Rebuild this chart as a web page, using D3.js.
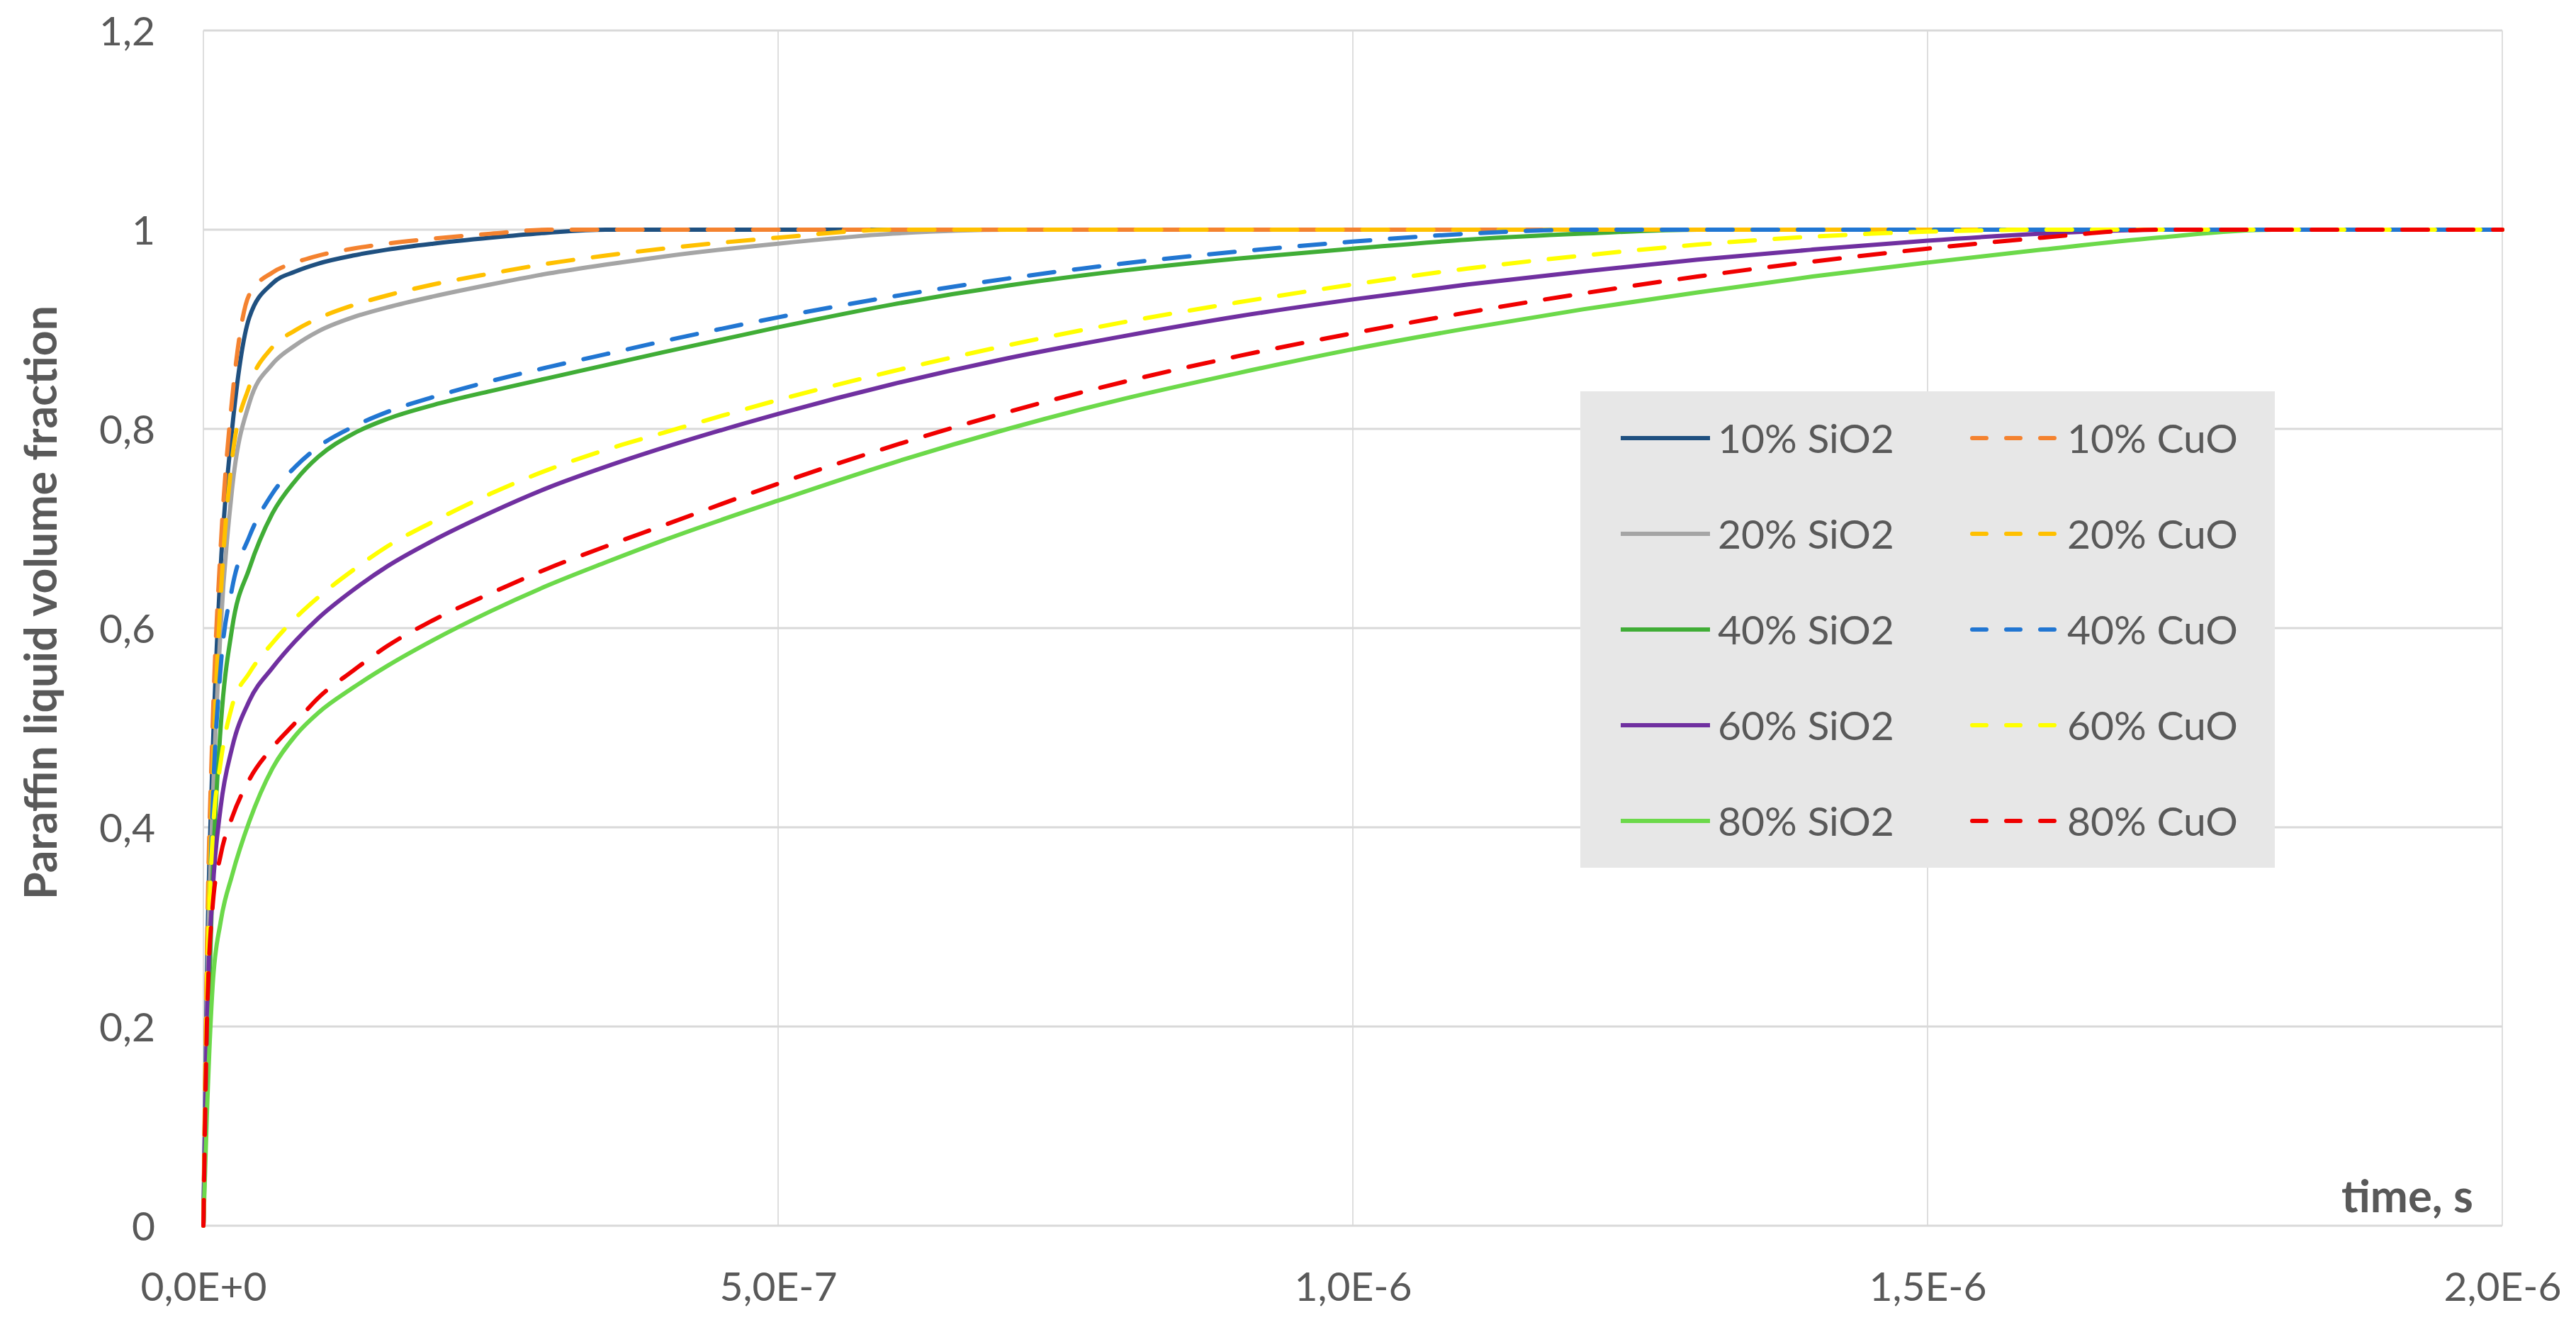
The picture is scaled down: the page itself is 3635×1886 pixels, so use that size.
<!DOCTYPE html>
<html><head><meta charset="utf-8">
<script src="https://cdn.jsdelivr.net/npm/d3@7"></script>
<style>html,body{margin:0;padding:0;background:#fff;} svg{display:block;}</style>
</head><body>
<svg id="chart" width="3635" height="1886"></svg>
<script>
// ---- data ----
const timeS = [0, 3e-9, 8e-9, 1.5e-8, 2.5e-8, 4e-8, 6e-8, 8e-8, 1.0e-7, 1.3e-7, 1.6e-7, 2.0e-7, 2.5e-7, 3.0e-7, 3.5e-7, 4e-7,
  5e-7, 6e-7, 7e-7, 8e-7, 9e-7, 1.0e-6, 1.1e-6, 1.2e-6, 1.3e-6, 1.4e-6, 1.5e-6, 1.6e-6, 1.7e-6, 1.8e-6, 1.9e-6, 2.0e-6];

const sio2_10 = [0, 0.25, 0.47, 0.66, 0.8, 0.912, 0.946, 0.958, 0.966, 0.974, 0.98, 0.986, 0.992, 0.997, 1, 1, 1, 1, 1, 1, 1, 1, 1, 1, 1, 1, 1, 1, 1, 1, 1, 1];
const sio2_20 = [0, 0.22, 0.42, 0.6, 0.74, 0.826, 0.865, 0.884, 0.898, 0.912, 0.922, 0.933, 0.945, 0.956, 0.965, 0.973, 0.986, 0.996, 1, 1, 1, 1, 1, 1, 1, 1, 1, 1, 1, 1, 1, 1];
const sio2_40 = [0, 0.15, 0.35, 0.5, 0.6, 0.66, 0.715, 0.748, 0.772, 0.795, 0.81, 0.824, 0.838, 0.851, 0.864, 0.877, 0.902, 0.925, 0.944, 0.959, 0.971, 0.981, 0.99, 0.996, 1, 1, 1, 1, 1, 1, 1, 1];
const sio2_60 = [0, 0.2, 0.334, 0.42, 0.48, 0.527, 0.56, 0.587, 0.61, 0.638, 0.662, 0.688, 0.716, 0.741, 0.762, 0.781, 0.815, 0.845, 0.871, 0.893, 0.913, 0.93, 0.945, 0.958, 0.97, 0.98, 0.989, 0.996, 1, 1, 1, 1];
const sio2_80 = [0, 0.11, 0.24, 0.305, 0.352, 0.406, 0.459, 0.492, 0.515, 0.54, 0.562, 0.588, 0.617, 0.643, 0.666, 0.688, 0.728, 0.766, 0.8, 0.83, 0.856, 0.88, 0.901, 0.92, 0.937, 0.953, 0.967, 0.98, 0.992, 1, 1, 1];
const cuo_10 = [0, 0.27, 0.5, 0.68, 0.83, 0.935, 0.957, 0.967, 0.974, 0.981, 0.986, 0.991, 0.996, 1, 1, 1, 1, 1, 1, 1, 1, 1, 1, 1, 1, 1, 1, 1, 1, 1, 1, 1];
const cuo_20 = [0, 0.24, 0.45, 0.63, 0.77, 0.843, 0.882, 0.899, 0.911, 0.924, 0.934, 0.945, 0.956, 0.966, 0.974, 0.981, 0.992, 1, 1, 1, 1, 1, 1, 1, 1, 1, 1, 1, 1, 1, 1, 1];
const cuo_40 = [0, 0.2, 0.42, 0.56, 0.64, 0.692, 0.735, 0.762, 0.782, 0.802, 0.817, 0.832, 0.848, 0.862, 0.875, 0.888, 0.912, 0.933, 0.951, 0.966, 0.978, 0.988, 0.996, 1, 1, 1, 1, 1, 1, 1, 1, 1];
const cuo_60 = [0, 0.22, 0.39, 0.465, 0.522, 0.555, 0.585, 0.61, 0.631, 0.658, 0.682, 0.707, 0.735, 0.759, 0.779, 0.796, 0.829, 0.858, 0.884, 0.907, 0.927, 0.945, 0.961, 0.974, 0.985, 0.993, 0.998, 1, 1, 1, 1, 1];
const cuo_80 = [0, 0.2, 0.32, 0.372, 0.41, 0.448, 0.48, 0.505, 0.53, 0.557, 0.582, 0.608, 0.635, 0.66, 0.682, 0.703, 0.745, 0.783, 0.817, 0.847, 0.873, 0.896, 0.917, 0.936, 0.953, 0.968, 0.981, 0.992, 1, 1, 1, 1];

const sio2Names = ["10% SiO2", "20% SiO2", "40% SiO2", "60% SiO2", "80% SiO2"];
const cuoNames  = ["10% CuO", "20% CuO", "40% CuO", "60% CuO", "80% CuO"];

const xTickValues = [0, 5e-7, 1e-6, 1.5e-6, 2e-6];
const xTickLabels = ["0,0E+0", "5,0E-7", "1,0E-6", "1,5E-6", "2,0E-6"];
const yTickValues = [0, 0.2, 0.4, 0.6, 0.8, 1, 1.2];
const yTickLabels = ["0", "0,2", "0,4", "0,6", "0,8", "1", "1,2"];

const yTitle = "Paraffin liquid volume fraction";
const xTitle = "time, s";

// ---- styles ----
const sio2Colors = ["#1f5080", "#a5a5a5", "#40ad36", "#7030a0", "#6cd94a"];
const cuoColors  = ["#f4822f", "#ffc000", "#2176d2", "#ffff00", "#f00000"];
const sio2Data = [sio2_10, sio2_20, sio2_40, sio2_60, sio2_80];
const cuoData  = [cuo_10, cuo_20, cuo_40, cuo_60, cuo_80];

const FONT = "Lato, 'Open Sans', sans-serif";
const TXT = "#595959";
const PLOT_DASH = "36,28";
const LEG_DASH = "20,28";

const svg = d3.select("#chart");
svg.append("rect").attr("width", 3635).attr("height", 1886).attr("fill", "#fff");

const x = d3.scaleLinear().domain([0, 2e-6]).range([287, 3531]);
const y = d3.scaleLinear().domain([0, 1.2]).range([1729, 43]);

// grid
const grid = svg.append("g");
grid.selectAll("line.v").data(xTickValues).join("line")
  .attr("x1", d => x(d)).attr("x2", d => x(d))
  .attr("y1", y(1.2)).attr("y2", y(0))
  .attr("stroke", "#dedede").attr("stroke-width", 2);
grid.selectAll("line.h").data(yTickValues).join("line")
  .attr("x1", x(0)).attr("x2", x(2e-6))
  .attr("y1", d => y(d)).attr("y2", d => y(d))
  .attr("stroke", "#d9d9d9").attr("stroke-width", 3);

// axes labels
const yAxis = d3.axisLeft(y).tickValues(yTickValues)
  .tickFormat((d, i) => yTickLabels[i]).tickSize(0).tickPadding(68);
const gy = svg.append("g").attr("transform", `translate(${x(0)},0)`).call(yAxis);
gy.select(".domain").remove();
gy.selectAll("text").attr("font-family", FONT).attr("font-size", 57)
  .attr("fill", TXT).attr("dy", "0.36em");

const xAxis = d3.axisBottom(x).tickValues(xTickValues)
  .tickFormat((d, i) => xTickLabels[i]).tickSize(0).tickPadding(66);
const gx = svg.append("g").attr("transform", `translate(0,${y(0)})`).call(xAxis);
gx.select(".domain").remove();
gx.selectAll("text").attr("font-family", FONT).attr("font-size", 57)
  .attr("fill", TXT);

// lines
const line = d3.line().x(d => x(d[0])).y(d => y(d[1])).curve(d3.curveMonotoneX);
const seriesAll = [];
sio2Data.forEach((arr, i) => seriesAll.push({ name: sio2Names[i], color: sio2Colors[i], dash: null, pts: timeS.map((t, k) => [t, arr[k]]) }));
cuoData.forEach((arr, i) => seriesAll.push({ name: cuoNames[i], color: cuoColors[i], dash: PLOT_DASH, pts: timeS.map((t, k) => [t, arr[k]]) }));

svg.append("g").selectAll("path").data(seriesAll).join("path")
  .attr("d", d => line(d.pts))
  .attr("fill", "none")
  .attr("stroke", d => d.color)
  .attr("stroke-width", 6)
  .attr("stroke-linecap", d => d.dash ? "round" : "butt")
  .attr("stroke-linejoin", "round")
  .attr("stroke-dasharray", d => d.dash);

// legend
const lg = svg.append("g");
lg.append("rect").attr("x", 2230).attr("y", 552).attr("width", 980).attr("height", 672).attr("fill", "#e7e7e7");
const rowY = d3.scaleLinear().domain([0, 4]).range([618, 1158]);
const cols = [{ names: sio2Names, colors: sio2Colors, dash: null, x0: 2287, tx: 2424 },
              { names: cuoNames, colors: cuoColors, dash: LEG_DASH, x0: 2783, tx: 2917 }];
cols.forEach(c => {
  c.names.forEach((n, i) => {
    const yy = rowY(i);
    lg.append("line").attr("x1", c.x0).attr("x2", c.dash ? c.x0 + 116 : c.x0 + 126)
      .attr("y1", yy).attr("y2", yy)
      .attr("stroke", c.colors[i]).attr("stroke-width", 6)
      .attr("stroke-linecap", c.dash ? "round" : "butt")
      .attr("stroke-dasharray", c.dash);
    lg.append("text").attr("x", c.tx).attr("y", yy).attr("dy", "0.36em")
      .attr("font-family", FONT).attr("font-size", 57).attr("fill", TXT).text(n);
  });
});

// axis titles
const yt = svg.append("text")
  .attr("transform", "translate(80,850) rotate(-90)")
  .attr("text-anchor", "middle")
  .attr("font-family", FONT).attr("font-weight", "bold").attr("font-size", 57)
  .attr("fill", TXT).text(yTitle);
const ytw = yt.node().getComputedTextLength();
if (ytw > 0) yt.attr("font-size", Math.min(66, 57 * 838 / ytw));

const xt = svg.append("text")
  .attr("x", 3490).attr("y", 1710).attr("text-anchor", "end")
  .attr("font-family", FONT).attr("font-weight", "bold").attr("font-size", 60)
  .attr("fill", TXT).text(xTitle);
const xtw = xt.node().getComputedTextLength();
if (xtw > 0) xt.attr("font-size", Math.min(66, 60 * 186 / xtw));
</script>
</body></html>
